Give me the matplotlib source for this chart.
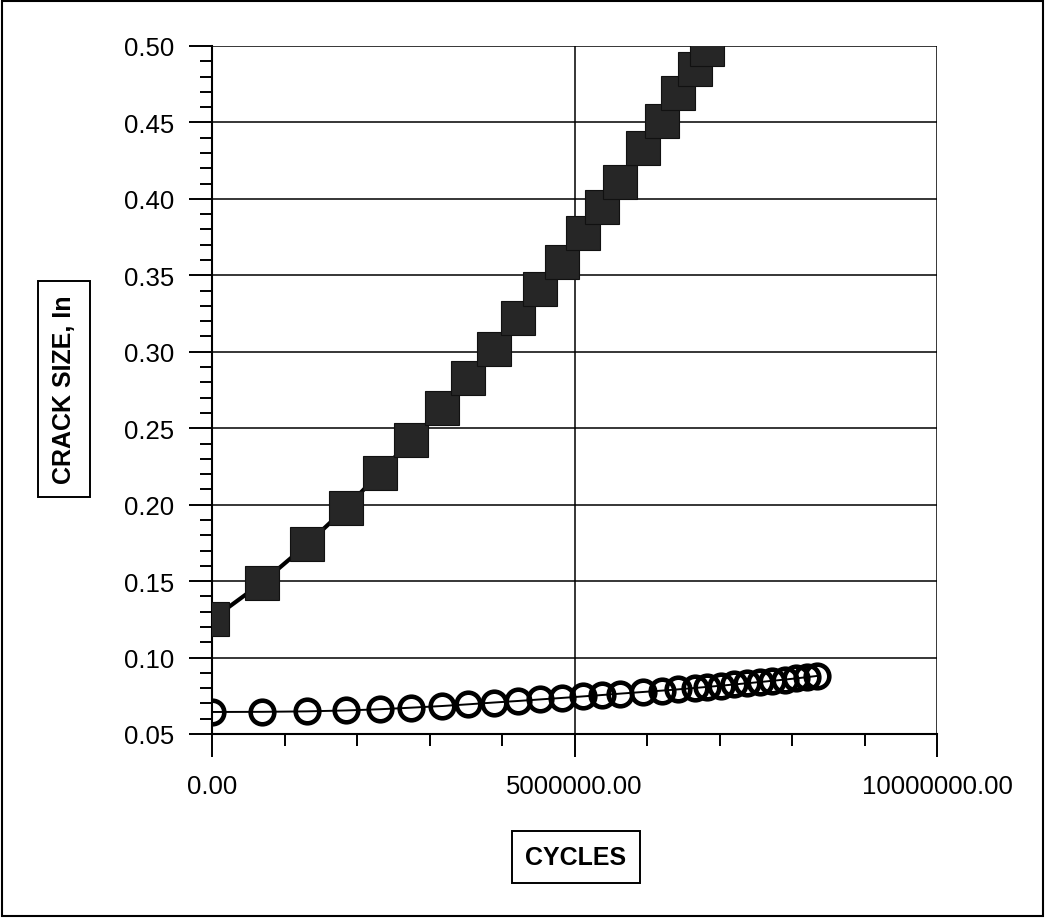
import numpy as np
import matplotlib.pyplot as plt
from matplotlib.patches import Rectangle
from matplotlib.ticker import MultipleLocator, FixedLocator

plt.close('all')
plt.rcParams['font.family'] = ['Liberation Sans', 'DejaVu Sans']

# =============================
# 1. DATA
# =============================

# cycles in millions, shared by both series
cycles_m = [0.0, 0.69, 1.31, 1.85, 2.32, 2.74, 3.17, 3.53, 3.89, 4.22,
            4.52, 4.83, 5.12, 5.38, 5.63, 5.95, 6.21, 6.43, 6.66, 6.83]
crack_sq = [0.125, 0.149, 0.174, 0.198, 0.221, 0.242, 0.263, 0.283, 0.302, 0.322,
            0.341, 0.359, 0.378, 0.395, 0.411, 0.433, 0.451, 0.469, 0.485, 0.498]

# circle series runs further in cycles
cycles_extra_m = [7.02, 7.20, 7.38, 7.56, 7.73, 7.90, 8.06, 8.21, 8.35]
crack_circ = [0.0644, 0.0645, 0.0648, 0.0654, 0.0662, 0.0672, 0.0683, 0.0694, 0.0706, 0.0716,
              0.0726, 0.0736, 0.0746, 0.0755, 0.0764, 0.0775, 0.0784, 0.0792, 0.0801, 0.0808,
              0.0816, 0.0824, 0.0832, 0.0840, 0.0848, 0.0856, 0.0864, 0.0872, 0.0880]

x_sq = np.array(cycles_m) * 1e6
x_circ = np.array(cycles_m + cycles_extra_m) * 1e6

x_ticks = [0, 5000000, 10000000]
x_ticklabels = ['0.00', '5000000.00', '10000000.00']
y_ticks = [0.05, 0.10, 0.15, 0.20, 0.25, 0.30, 0.35, 0.40, 0.45, 0.50]

# =============================
# 2. FIGURE
# =============================

fig = plt.figure(figsize=(10.45, 9.2), dpi=100)
ax = fig.add_axes([212 / 1045, 1 - 735 / 920, 725 / 1045, 688 / 920])

ax.plot(x_sq, crack_sq, color='black', linewidth=3, zorder=3)
sq_marks, = ax.plot(x_sq, crack_sq, linestyle='none', marker='s', markersize=24.5,
                    markerfacecolor='#262626', markeredgecolor='#111111',
                    markeredgewidth=0.8, zorder=4)

ax.plot(x_circ, crack_circ, color='black', linewidth=1.4, zorder=3)
circ_marks, = ax.plot(x_circ, crack_circ, linestyle='none', marker='o', markersize=17,
                      markerfacecolor='none', markeredgecolor='black',
                      markeredgewidth=3.3, zorder=4)

# markers at the edges are cut by the plot area
for line in [sq_marks, circ_marks]:
    line.set_clip_path(ax.patch)

ax.set_xlim(0, 10000000)
ax.set_ylim(0.05, 0.50)

ax.xaxis.set_major_locator(FixedLocator(x_ticks))
ax.set_xticklabels(x_ticklabels)
ax.xaxis.set_minor_locator(MultipleLocator(1000000))
ax.yaxis.set_major_locator(FixedLocator(y_ticks))
ax.set_yticklabels([f'{v:.2f}' for v in y_ticks])
ax.yaxis.set_minor_locator(MultipleLocator(0.01))

ax.tick_params(which='major', direction='out', length=16.5, width=1.4,
               labelsize=18.5, color='black')
ax.tick_params(axis='y', which='major', pad=11)
ax.tick_params(axis='x', which='major', pad=12)
ax.tick_params(which='minor', direction='out', length=8.5, width=1.4, color='black')

ax.grid(True, which='major', color='black', linewidth=1.1)
for side in ['top', 'right']:
    ax.spines[side].set_visible(False)
for side in ['left', 'bottom']:
    ax.spines[side].set_linewidth(1.5)

# boxed axis titles
fig.text(64 / 1045, 1 - 390 / 920, 'CRACK SIZE, In', rotation=90, fontsize=18,
         fontweight='bold', ha='center', va='center',
         bbox=dict(boxstyle='square,pad=0.55', facecolor='white', edgecolor='black', linewidth=1.4))
fig.text(576 / 1045, 1 - 858 / 920, 'CYCLES', fontsize=18, fontweight='bold',
         ha='center', va='center',
         bbox=dict(boxstyle='square,pad=0.55', facecolor='white', edgecolor='black', linewidth=1.4))

# outer frame
fig.patches.append(Rectangle((2 / 1045, 3 / 920), 1041 / 1045, 915 / 920,
                             transform=fig.transFigure, fill=False,
                             edgecolor='black', linewidth=1.5))

fig.savefig('out.png', dpi=100)
